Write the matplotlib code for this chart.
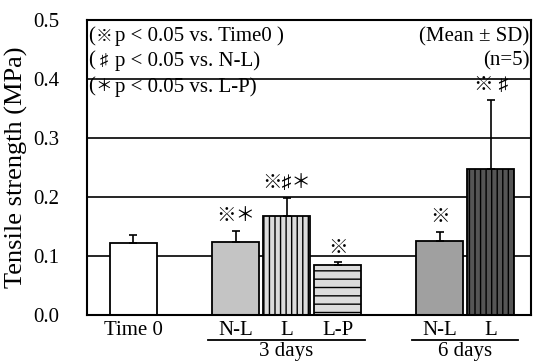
import numpy as np
import matplotlib.pyplot as plt

plt.rcParams['font.family'] = ['Liberation Serif', 'Noto Sans CJK JP', 'DejaVu Sans']

# data
labels = ["Time 0", "N-L", "L", "L-P", "N-L", "L"]
positions = [0, 2, 3, 4, 6, 7]
means = [0.122, 0.123, 0.168, 0.085, 0.125, 0.247]
sds = [0.014, 0.019, 0.030, 0.004, 0.016, 0.118]
marks = ["", "※＊", "※♯＊", "※", "※", "※ ♯"]
groups = ["3 days", "6 days"]
group_span = [(2, 4), (6, 7)]

faces = ["white", "#c4c4c4", "#dcdcdc", "#dcdcdc", "#a0a0a0", "#555555"]
hatches = [None, None, "|||", "--", None, "|||"]

fig = plt.figure(figsize=(5.37, 3.61), dpi=100)
ax = fig.add_axes([87 / 537, 46 / 361, 444 / 537, 295 / 361])

for y in [0.1, 0.2, 0.3, 0.4]:
    ax.axhline(y, color="black", lw=1.2, zorder=1)

plt.rcParams['hatch.linewidth'] = 1.0
for x, m, s, fc, h in zip(positions, means, sds, faces, hatches):
    ax.bar(x, m, width=0.92, color=fc, edgecolor="black", linewidth=1.3,
           hatch=h, zorder=2)
    ax.errorbar(x, m, yerr=[[0], [s]], fmt="none", ecolor="black",
                elinewidth=1.2, capsize=3, capthick=1.2, zorder=3)

for x, m, s, t in zip(positions, means, sds, marks):
    if t:
        ax.text(x, m + s + 0.01, t, ha="center", va="bottom", fontsize=14)

ax.set_xlim(-0.91, 7.79)
ax.set_ylim(0, 0.5)
ax.set_yticks([0.0, 0.1, 0.2, 0.3, 0.4, 0.5])
ax.set_yticklabels(["0.0", "0.1", "0.2", "0.3", "0.4", "0.5"], fontsize=15)
ax.tick_params(axis="y", length=0, pad=20)
ax.set_xticks(positions)
ax.set_xticklabels(labels, fontsize=15)
ax.tick_params(axis="x", length=0, pad=4)
ax.set_ylabel("Tensile strength (MPa)", fontsize=19, labelpad=4)
for sp in ax.spines.values():
    sp.set_linewidth(1.5)

# legend-like notes inside the plot
notes = [("※", "p < 0.05 vs. Time0 )", 0.472),
         ("♯", "p < 0.05 vs. N-L)", 0.431),
         ("＊", "p < 0.05 vs. L-P)", 0.387)]
for sym, txt, y in notes:
    ax.text(-0.885, y, "(", ha="left", va="center", fontsize=15)
    ax.text(-0.585, y, sym, ha="center", va="center", fontsize=12)
    ax.text(-0.37, y, txt, ha="left", va="center", fontsize=15)
ax.text(7.76, 0.472, "(Mean ± SD)", ha="right", va="center", fontsize=15)
ax.text(7.76, 0.431, "(n=5)", ha="right", va="center", fontsize=15)

# group underlines
for name, (a, b) in zip(groups, group_span):
    ax.plot([a - 0.54, b + 0.54], [-0.043, -0.043], color="black", lw=1.3,
            clip_on=False)
    ax.text((a + b) / 2, -0.046, name, ha="center", va="top", fontsize=15,
            clip_on=False)

fig.savefig("out.png", dpi=100)
